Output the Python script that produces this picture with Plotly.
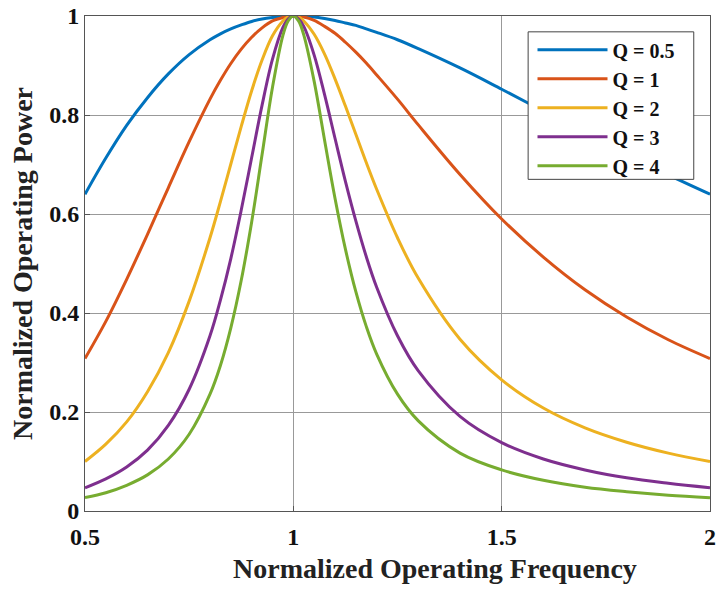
import plotly.graph_objects as go

freq = [0.5, 0.55, 0.6, 0.65, 0.7, 0.75, 0.8, 0.825, 0.85, 0.875, 0.9, 0.925, 0.95, 0.975, 0.9875, 1.0,
        1.0125, 1.025, 1.05, 1.075, 1.1, 1.125, 1.15, 1.175, 1.2, 1.25, 1.3, 1.4, 1.5, 1.6, 1.7, 1.8, 1.9, 2.0]

p_q05 = [0.640, 0.713, 0.779, 0.835, 0.883, 0.922, 0.952, 0.964, 0.974, 0.982, 0.989, 0.994, 0.997, 0.999, 1.0, 1.0,
         1.0, 0.999, 0.998, 0.995, 0.991, 0.986, 0.981, 0.974, 0.967, 0.952, 0.934, 0.895, 0.852, 0.808, 0.764, 0.721, 0.679, 0.640]
p_q1 = [0.308, 0.383, 0.468, 0.559, 0.653, 0.746, 0.832, 0.870, 0.904, 0.933, 0.957, 0.976, 0.990, 0.997, 0.999, 1.0,
        0.999, 0.998, 0.991, 0.979, 0.965, 0.947, 0.927, 0.905, 0.881, 0.832, 0.780, 0.680, 0.590, 0.513, 0.447, 0.392, 0.346, 0.308]
p_q2 = [0.100, 0.135, 0.180, 0.241, 0.320, 0.424, 0.552, 0.625, 0.701, 0.777, 0.849, 0.911, 0.960, 0.990, 0.998, 1.0,
        0.998, 0.990, 0.963, 0.923, 0.873, 0.818, 0.761, 0.704, 0.650, 0.552, 0.470, 0.347, 0.265, 0.208, 0.168, 0.139, 0.117, 0.100]
p_q3 = [0.047, 0.065, 0.089, 0.123, 0.173, 0.246, 0.354, 0.426, 0.510, 0.608, 0.714, 0.820, 0.913, 0.977, 0.994, 1.0,
        0.994, 0.979, 0.921, 0.841, 0.753, 0.666, 0.586, 0.514, 0.452, 0.354, 0.283, 0.191, 0.138, 0.105, 0.083, 0.067, 0.056, 0.047]
p_q4 = [0.027, 0.037, 0.052, 0.073, 0.105, 0.155, 0.236, 0.294, 0.370, 0.466, 0.584, 0.720, 0.856, 0.961, 0.990, 1.0,
        0.990, 0.962, 0.868, 0.749, 0.632, 0.529, 0.443, 0.373, 0.317, 0.236, 0.182, 0.117, 0.083, 0.062, 0.048, 0.039, 0.032, 0.027]

series_names = ["Q = 0.5", "Q = 1", "Q = 2", "Q = 3", "Q = 4"]
series_values = [p_q05, p_q1, p_q2, p_q3, p_q4]
colors = ["#0072BD", "#D95319", "#EDB120", "#7E2F8E", "#77AC30"]

x_ticks = [0.5, 1, 1.5, 2]
x_tick_labels = ["0.5", "1", "1.5", "2"]
y_ticks = [0, 0.2, 0.4, 0.6, 0.8, 1]
y_tick_labels = ["0", "0.2", "0.4", "0.6", "0.8", "1"]

x_title = "Normalized Operating Frequency"
y_title = "Normalized Operating Power"

FONT = "Liberation Serif"

fig = go.Figure()
for name, vals, col in zip(series_names, series_values, colors):
    fig.add_trace(go.Scatter(
        x=freq, y=vals, mode="lines", name=name,
        line=dict(color=col, width=3, shape="spline", smoothing=1.0),
        cliponaxis=False,
    ))

axis_common = dict(
    showline=True, linecolor="#555555", linewidth=1, mirror=True,
    showgrid=True, gridcolor="#999999", gridwidth=1,
    ticks="inside", ticklen=5, tickcolor="#555555",
    tickfont=dict(family=FONT, size=24, color="#111111", weight="bold"),
    zeroline=False, automargin=False,
)

# legend box (drawn as a white panel so its size matches the reference)
fig.add_shape(type="rect", xref="paper", yref="paper",
              x0=0.709, x1=0.974, y0=0.670, y1=0.968,
              fillcolor="white", line=dict(color="#444444", width=1), layer="above")

fig.add_annotation(text=x_title, xref="paper", yref="paper", x=0.56, y=-0.117,
                   xanchor="center", yanchor="middle", showarrow=False,
                   font=dict(family=FONT, size=28, color="#222222", weight="bold"))

fig.update_layout(
    width=721, height=590,
    margin=dict(l=85, r=11, t=16, b=79),
    paper_bgcolor="white", plot_bgcolor="white",
    font=dict(family=FONT, color="#111111"),
    xaxis=dict(range=[0.5, 2], tickvals=x_ticks, ticktext=x_tick_labels,
               ticklabelstandoff=4, **axis_common),
    yaxis=dict(range=[0, 1], tickvals=y_ticks, ticktext=y_tick_labels,
               title=dict(text=y_title,
                          font=dict(family=FONT, size=28, color="#222222", weight="bold"),
                          standoff=8),
               **axis_common),
    legend=dict(
        x=0.716, y=0.971, xanchor="left", yanchor="top",
        bgcolor="rgba(0,0,0,0)", borderwidth=0,
        font=dict(family=FONT, size=20, color="#111111", weight="bold"),
        tracegroupgap=0, itemwidth=70,
    ),
    showlegend=True,
)

fig.write_html("out.html")
